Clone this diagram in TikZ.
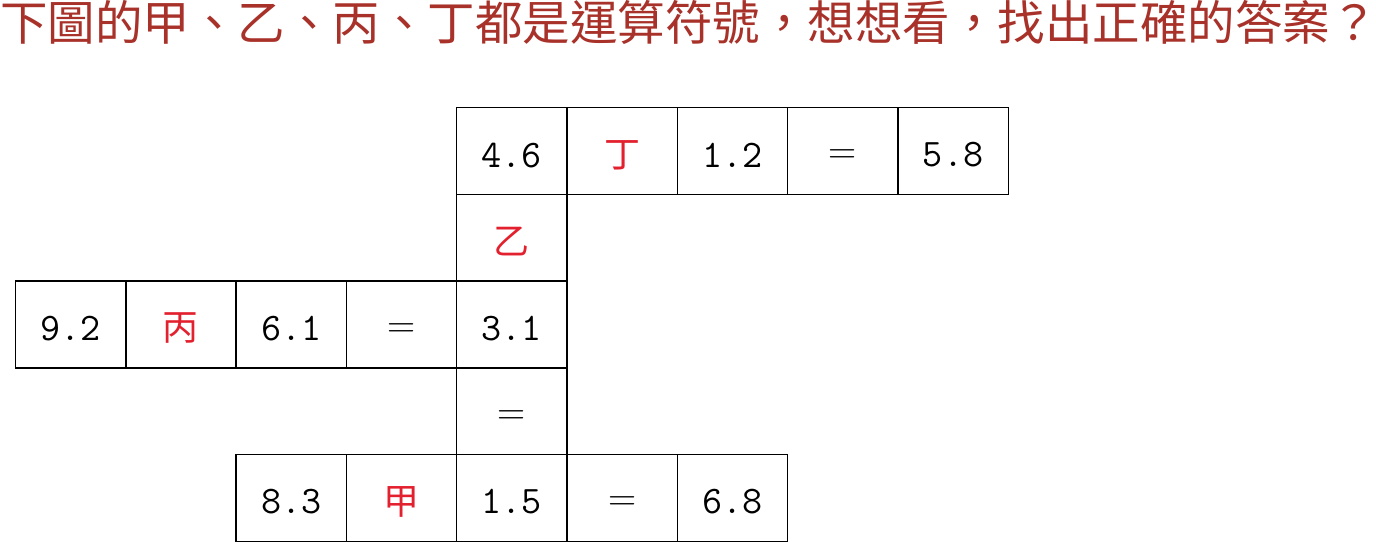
\documentclass[tikz,border=0pt]{standalone}
\usepackage{fontspec}
\newfontfamily\cjk{Noto Sans CJK TC}
\definecolor{titlered}{HTML}{A8322A}
\definecolor{oprd}{HTML}{E3202E}
\newcommand{\eqs}{\raisebox{-6pt}[\height][\depth]{\rmfamily =}}
\newcommand{\dg}[1]{\raisebox{-4pt}[\height][\depth]{#1}}
\newcommand{\ch}[1]{\raisebox{-4pt}[\height][\depth]{#1}}
\begin{document}
\begin{tikzpicture}[x=1pt,y=-1pt,
  cell/.style={draw=black,line width=1.4pt,minimum width=110.3pt,minimum height=86.7pt,inner sep=0pt,anchor=north west},
  num/.style={cell,font=\fontsize{39}{40}\selectfont\ttfamily},
  opc/.style={cell,font=\fontsize{36}{40}\selectfont\cjk,text=oprd},
  ttl/.style={anchor=base west,inner sep=0pt,font=\fontsize{47.5}{52}\selectfont\cjk,text=titlered}]
\useasboundingbox (0,0) rectangle (1376,541);
\node[ttl] (title) at (0,40) {下圖的甲、乙、丙、丁都是運算符號，想想看，找出正確的答案？};
% row 1
\node[num] (r1a) at (456.0,107) {\dg{4.6}};
\node[opc] (r1b) at (566.3,107) {\ch{丁}};
\node[num] (r1c) at (676.6,107) {\dg{1.2}};
\node[num] (r1d) at (786.9,107) {\eqs};
\node[num] (r1e) at (897.2,107) {\dg{5.8}};
% row 2
\node[opc] (r2a) at (456.0,193.7) {\ch{乙}};
% row 3
\node[num] (r3a) at (14.8,280.4) {\dg{9.2}};
\node[opc] (r3b) at (125.1,280.4) {\ch{丙}};
\node[num] (r3c) at (235.4,280.4) {\dg{6.1}};
\node[num] (r3d) at (345.7,280.4) {\eqs};
\node[num] (r3e) at (456.0,280.4) {\dg{3.1}};
% row 4
\node[num] (r4a) at (456.0,367.1) {\eqs};
% row 5
\node[num] (r5a) at (235.4,453.8) {\dg{8.3}};
\node[opc] (r5b) at (345.7,453.8) {\ch{甲}};
\node[num] (r5c) at (456.0,453.8) {\dg{1.5}};
\node[num] (r5d) at (566.3,453.8) {\eqs};
\node[num] (r5e) at (676.6,453.8) {\dg{6.8}};
\end{tikzpicture}
\end{document}
